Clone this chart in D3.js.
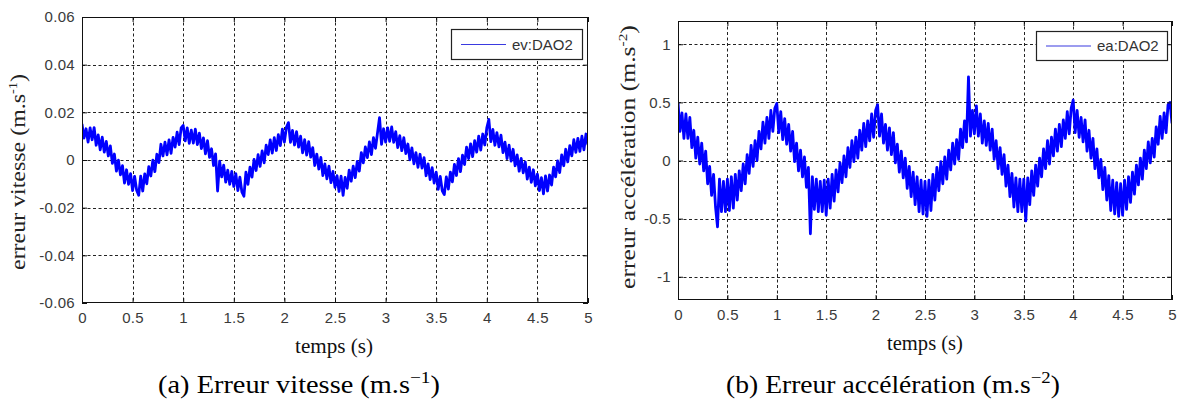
<!DOCTYPE html>
<html>
<head>
<meta charset="utf-8">
<script src="https://cdn.jsdelivr.net/npm/d3@7"></script>
<style>
  html, body { margin: 0; padding: 0; background: #fff; }
  svg { display: block; }
</style>
</head>
<body>
<svg id="chart" width="1179" height="403"></svg>
<script>
// ---------------- data ----------------
const sampleStep = 0.02; // s, one sample every 20 ms from t = 0 to t = 5 s
const xTicks = [0, 0.5, 1, 1.5, 2, 2.5, 3, 3.5, 4, 4.5, 5];
const xTickLabels = ["0", "0.5", "1", "1.5", "2", "2.5", "3", "3.5", "4", "4.5", "5"];
const yTicksV = [-0.06, -0.04, -0.02, 0, 0.02, 0.04, 0.06];
const yTickLabelsV = ["-0.06", "-0.04", "-0.02", "0", "0.02", "0.04", "0.06"];
const yTicksA = [-1, -0.5, 0, 0.5, 1];
const yTickLabelsA = ["-1", "-0.5", "0", "0.5", "1"];
const seriesNameV = "ev:DAO2";
const seriesNameA = "ea:DAO2";

// erreur vitesse (m.s-1)
const errVitesse = [
 0.0151, 0.0092, 0.0131, 0.0075, 0.0135, 0.0085, 0.0136, 0.0062, 0.0105, 0.0043,
 0.0096, 0.0033, 0.0078, 0.0017, 0.0059, -0.0014, 0.0025, -0.0047, -0.0001, -0.0062,
 -0.0024, -0.0097, -0.0041, -0.0102, -0.0057, -0.0128, -0.0069, -0.0127, -0.0148, -0.0068,
 -0.0130, -0.0058, -0.0100, -0.0028, -0.0067, -0.0001, -0.0049, 0.0024, -0.0011, 0.0066,
 0.0017, 0.0075, 0.0022, 0.0084, 0.0028, 0.0095, 0.0054, 0.0117, 0.0065, 0.0135,
 0.0145, 0.0080, 0.0135, 0.0070, 0.0125, 0.0071, 0.0129, 0.0065, 0.0113, 0.0048,
 0.0093, 0.0026, 0.0081, 0.0011, 0.0047, -0.0023, 0.0026, -0.0130, -0.0005, -0.0071,
 -0.0022, -0.0093, -0.0043, -0.0102, -0.0048, -0.0111, -0.0057, -0.0128, -0.0072, -0.0134,
 -0.0152, -0.0051, -0.0102, -0.0030, -0.0072, 0.0003, -0.0044, 0.0022, -0.0027, 0.0038,
 -0.0012, 0.0062, 0.0023, 0.0084, 0.0029, 0.0094, 0.0040, 0.0106, 0.0060, 0.0129,
 0.0075, 0.0137, 0.0157, 0.0074, 0.0124, 0.0063, 0.0119, 0.0054, 0.0100, 0.0030,
 0.0085, 0.0021, 0.0077, 0.0012, 0.0052, -0.0023, 0.0025, -0.0038, 0.0011, -0.0065,
 -0.0016, -0.0079, -0.0026, -0.0095, -0.0048, -0.0115, -0.0066, -0.0132, -0.0068, -0.0148,
 -0.0073, -0.0119, -0.0043, -0.0089, -0.0026, -0.0074, -0.0006, -0.0047, 0.0031, -0.0012,
 0.0055, 0.0010, 0.0076, 0.0023, 0.0094, 0.0049, 0.0114, 0.0178, 0.0066, 0.0131,
 0.0075, 0.0135, 0.0078, 0.0139, 0.0074, 0.0119, 0.0052, 0.0102, 0.0039, 0.0094,
 0.0027, 0.0067, 0.0001, 0.0051, -0.0016, 0.0031, -0.0031, 0.0024, -0.0034, 0.0010,
 -0.0066, -0.0016, -0.0082, -0.0032, -0.0097, -0.0051, -0.0123, -0.0069, -0.0129, -0.0145,
 -0.0071, -0.0122, -0.0051, -0.0092, -0.0018, -0.0065, 0.0006, -0.0049, 0.0020, -0.0019,
 0.0054, 0.0006, 0.0068, 0.0014, 0.0081, 0.0033, 0.0100, 0.0042, 0.0109, 0.0063,
 0.0135, 0.0170, 0.0077, 0.0128, 0.0062, 0.0115, 0.0055, 0.0104, 0.0031, 0.0075,
 0.0006, 0.0062, -0.0005, 0.0045, -0.0024, 0.0021, -0.0047, 0.0007, -0.0054, -0.0008,
 -0.0080, -0.0030, -0.0094, -0.0041, -0.0108, -0.0059, -0.0128, -0.0074, -0.0142, -0.0067,
 -0.0130, -0.0063, -0.0105, -0.0030, -0.0071, -0.0004, -0.0053, 0.0021, -0.0024, 0.0045,
 -0.0008, 0.0060, 0.0017, 0.0085, 0.0032, 0.0091, 0.0036, 0.0100, 0.0043, 0.0109,
 0.0063
];

// erreur accélération (m.s-2)
const errAcceleration = [
 0.50, 0.25, 0.41, 0.19, 0.40, 0.19, 0.37, 0.11, 0.26, 0.02,
 0.20, -0.03, 0.15, -0.09, 0.08, -0.20, -0.05, -0.30, -0.12, -0.40,
 -0.57, -0.16, -0.44, -0.18, -0.44, -0.16, -0.43, -0.14, -0.41, -0.12,
 -0.34, -0.09, -0.26, -0.03, -0.20, 0.05, -0.11, 0.13, -0.05, 0.17,
 0.00, 0.25, 0.10, 0.33, 0.15, 0.37, 0.19, 0.43, 0.25, 0.45,
 0.49, 0.24, 0.42, 0.18, 0.36, 0.14, 0.31, 0.08, 0.25, -0.01,
 0.15, -0.09, 0.09, -0.14, 0.03, -0.23, -0.06, -0.63, -0.14, -0.42,
 -0.16, -0.44, -0.18, -0.44, -0.17, -0.47, -0.16, -0.41, -0.12, -0.35,
 -0.08, -0.27, -0.02, -0.19, 0.04, -0.14, 0.11, -0.06, 0.17, -0.01,
 0.20, 0.02, 0.26, 0.09, 0.32, 0.12, 0.34, 0.17, 0.40, 0.20,
 0.43, 0.48, 0.21, 0.40, 0.15, 0.31, 0.09, 0.28, 0.05, 0.24,
 -0.02, 0.14, -0.10, 0.08, -0.15, 0.02, -0.24, -0.05, -0.31, -0.10,
 -0.38, -0.14, -0.44, -0.17, -0.46, -0.18, -0.48, -0.17, -0.43, -0.12,
 -0.34, -0.06, -0.26, -0.01, -0.20, 0.03, -0.16, 0.09, -0.08, 0.15,
 -0.03, 0.18, 0.01, 0.27, 0.11, 0.34, 0.16, 0.72, 0.21, 0.43,
 0.23, 0.47, 0.21, 0.40, 0.15, 0.34, 0.13, 0.32, 0.09, 0.27,
 0.01, 0.17, -0.07, 0.11, -0.12, 0.05, -0.22, -0.04, -0.31, -0.11,
 -0.40, -0.15, -0.44, -0.16, -0.44, -0.16, -0.52, -0.15, -0.38, -0.09,
 -0.30, -0.04, -0.22, 0.02, -0.14, 0.10, -0.07, 0.17, -0.03, 0.20,
 0.04, 0.27, 0.08, 0.31, 0.12, 0.35, 0.19, 0.42, 0.23, 0.45,
 0.52, 0.24, 0.43, 0.20, 0.37, 0.16, 0.35, 0.08, 0.26, 0.02,
 0.19, -0.07, 0.10, -0.15, 0.01, -0.25, -0.06, -0.34, -0.13, -0.43,
 -0.17, -0.46, -0.19, -0.48, -0.20, -0.47, -0.17, -0.42, -0.14, -0.36,
 -0.10, -0.29, -0.04, -0.21, 0.02, -0.16, 0.09, -0.07, 0.16, -0.02,
 0.19, 0.03, 0.29, 0.14, 0.38, 0.19, 0.41, 0.24, 0.48, 0.50,
 0.32
];

// ---------------- drawing ----------------
const svg = d3.select("#chart");
const tickFont = "'Liberation Sans', Arial, sans-serif";
const serif = "'Liberation Serif', 'Times New Roman', serif";

// text stretched horizontally to the width it has in the reference picture
function stretchedText(parent, cx, cy, rotate, size, width, parts, fill) {
  const g = parent.append("g");
  const t = g.append("text").attr("text-anchor", "middle").attr("fill", fill)
    .style("font-family", serif).style("font-size", size + "px");
  parts.forEach(p => {
    const s = t.append("tspan").text(p.text);
    if (p.dy) s.attr("dy", p.dy);
    if (p.size) s.style("font-size", p.size + "px");
  });
  const w = t.node().getBBox().width;
  const sx = width / w;
  g.attr("transform", `translate(${cx},${cy}) rotate(${rotate}) scale(${sx},1)`);
  return g;
}

function drawPanel(opt) {
  const x = d3.scaleLinear().domain([0, 5]).range([opt.left, opt.right]);
  const y = d3.scaleLinear().domain(opt.yDomain).range([opt.bottom, opt.top]);
  const g = svg.append("g");

  // grid
  const grid = g.append("g").attr("stroke", "#222").attr("stroke-width", 1)
    .attr("stroke-dasharray", "3,2.5");
  grid.selectAll("line.gx").data(xTicks.slice(1, -1)).join("line")
    .attr("x1", d => Math.round(x(d)) + 0.5).attr("x2", d => Math.round(x(d)) + 0.5)
    .attr("y1", opt.top).attr("y2", opt.bottom);
  grid.selectAll("line.gy").data(opt.yTicks.filter(v => y(v) > opt.top + 2 && y(v) < opt.bottom - 2)).join("line")
    .attr("y1", d => Math.round(y(d)) + 0.5).attr("y2", d => Math.round(y(d)) + 0.5)
    .attr("x1", opt.left).attr("x2", opt.right);

  // data line
  const clipId = "clip" + opt.id;
  svg.append("clipPath").attr("id", clipId).append("rect")
    .attr("x", opt.left).attr("y", opt.top)
    .attr("width", opt.right - opt.left).attr("height", opt.bottom - opt.top);
  const line = d3.line().x((d, i) => x(i * sampleStep)).y(d => y(d));
  g.append("path").datum(opt.values)
    .attr("clip-path", `url(#${clipId})`)
    .attr("fill", "none").attr("stroke", "#0000ff").attr("stroke-width", 2.8)
    .attr("stroke-linejoin", "round").attr("d", line);

  // axes (MATLAB style: ticks inside on all sides)
  const bottomAxis = d3.axisBottom(x).tickValues(xTicks)
    .tickFormat((d, i) => xTickLabels[i]).tickSize(-5).tickPadding(9);
  const topAxis = d3.axisTop(x).tickValues(xTicks).tickFormat("").tickSize(-5);
  const leftAxis = d3.axisLeft(y).tickValues(opt.yTicks)
    .tickFormat((d, i) => opt.yTickLabels[i]).tickSize(-5).tickPadding(7);
  const rightAxis = d3.axisRight(y).tickValues(opt.yTicks).tickFormat("").tickSize(-5);

  function style(sel) {
    sel.select(".domain").remove();
    sel.selectAll("line").attr("stroke", "#111");
    sel.selectAll("text").attr("fill", "#3a3a3a").style("font-family", tickFont)
      .style("font-size", "15px").style("letter-spacing", "0.3px");
  }
  g.append("g").attr("transform", `translate(0,${opt.bottom})`).call(bottomAxis).call(style);
  g.append("g").attr("transform", `translate(0,${opt.top})`).call(topAxis).call(style);
  g.append("g").attr("transform", `translate(${opt.left},0)`).call(leftAxis).call(style);
  g.append("g").attr("transform", `translate(${opt.right},0)`).call(rightAxis).call(style);

  // box
  g.append("rect").attr("x", opt.left + 0.5).attr("y", opt.top + 0.5)
    .attr("width", opt.right - opt.left - 1).attr("height", opt.bottom - opt.top - 1)
    .attr("fill", "none").attr("stroke", "#111").attr("stroke-width", 1);

  // legend
  const lg = g.append("g");
  lg.append("rect").attr("x", opt.legend.x + 0.5).attr("y", opt.legend.y + 0.5)
    .attr("width", opt.legend.w).attr("height", opt.legend.h)
    .attr("fill", "#fff").attr("stroke", "#222").attr("stroke-width", 1.2);
  lg.append("line").attr("x1", opt.legend.x + 10).attr("x2", opt.legend.x + 55)
    .attr("y1", opt.legend.y + opt.legend.h / 2 + 0.5).attr("y2", opt.legend.y + opt.legend.h / 2 + 0.5)
    .attr("stroke", "#3a3ae0").attr("stroke-width", 1.2);
  lg.append("text").attr("x", opt.legend.x + 61).attr("y", opt.legend.y + opt.legend.h / 2 + 5.5)
    .attr("fill", "#333").style("font-family", tickFont).style("font-size", "15px")
    .text(opt.seriesName);

  // x label
  stretchedText(g, opt.xLabelX, opt.xLabelY, 0, 21, opt.xLabelW,
    [{ text: "temps (s)" }], "#111");

  // y label (rotated)
  stretchedText(g, opt.yLabelX, opt.yLabelY, -90, 20, opt.yLabelW,
    [{ text: opt.yLabel + " (m.s" }, { text: opt.yExp, dy: -8, size: 12 }, { text: ")", dy: 8 }], "#222");

  // caption
  stretchedText(svg, opt.capX, 393, 0, 25, opt.capW,
    [{ text: opt.caption + " (m.s" }, { text: opt.capExp, dy: -10, size: 17 }, { text: ")", dy: 10 }], "#000");
}

drawPanel({
  id: "a", left: 82, right: 588, top: 17, bottom: 303,
  yDomain: [-0.06, 0.06], yTicks: yTicksV, yTickLabels: yTickLabelsV,
  values: errVitesse, seriesName: seriesNameV,
  legend: { x: 451, y: 29, w: 131, h: 30 },
  xLabelX: 334, xLabelY: 353, xLabelW: 78,
  yLabelX: 25, yLabelY: 172, yLabelW: 196, yLabel: "erreur vitesse", yExp: "-1",
  capX: 299, capW: 282, caption: "(a) Erreur vitesse", capExp: "\u22121"
});

drawPanel({
  id: "b", left: 678, right: 1172, top: 21, bottom: 300,
  yDomain: [-1.2, 1.2], yTicks: yTicksA, yTickLabels: yTickLabelsA,
  values: errAcceleration, seriesName: seriesNameA,
  legend: { x: 1036, y: 31, w: 131, h: 29 },
  xLabelX: 925, xLabelY: 350, xLabelW: 76,
  yLabelX: 635, yLabelY: 157, yLabelW: 264, yLabel: "erreur accélération", yExp: "-2",
  capX: 893, capW: 334, caption: "(b) Erreur accélération", capExp: "\u22122"
});
</script>
</body>
</html>
